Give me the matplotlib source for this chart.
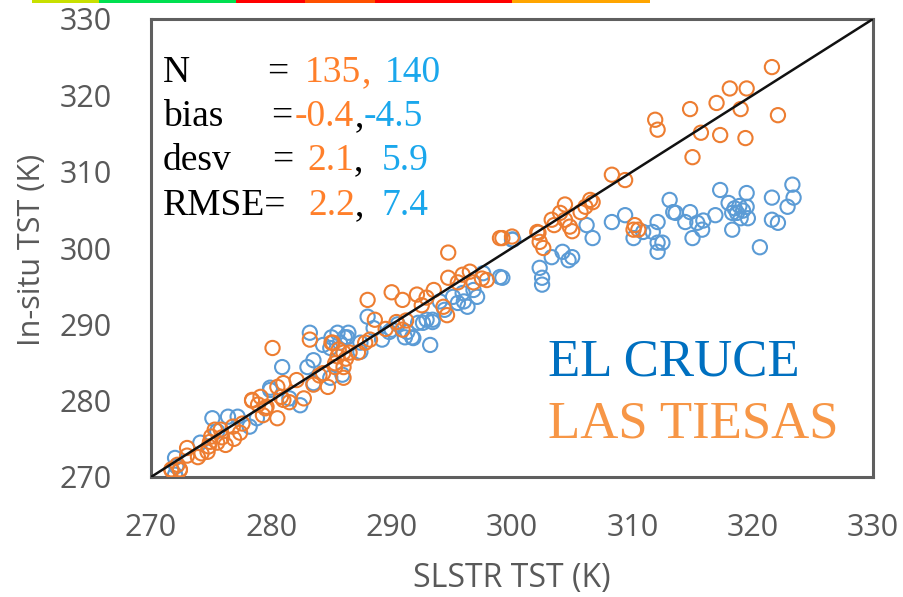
import matplotlib
matplotlib.use("Agg")
import matplotlib.pyplot as plt
from matplotlib.patches import Rectangle

W, H = 904, 597

# EL CRUCE (blue)
cruce_x = [272.0, 272.0, 272.1, 274.1, 275.1, 275.5, 276.4, 277.2, 278.2, 278.8,
           279.9, 279.9, 280.9, 282.4, 281.5,
           283.0, 283.2, 283.5, 283.5, 284.3, 284.9, 284.9, 285.0, 285.5, 285.7,
           285.9, 286.1, 286.3, 286.4, 287.4, 287.4, 288.0, 289.2, 290.0, 291.1,
           291.3, 291.7, 291.8, 292.2, 292.6, 292.9, 293.2, 293.4, 293.4, 294.4,
           295.1, 295.9, 296.3, 296.8, 297.1, 297.6, 299.0, 299.2, 294.0, 295.5,
           296.0, 288.5, 289.8, 290.5,
           300.0, 300.1, 302.3, 302.5, 302.5, 303.3, 304.2, 304.7, 305.0, 306.2,
           306.7, 308.3, 309.4, 310.1, 310.9, 311.7, 312.1, 312.1, 312.1, 312.5,
           313.1, 313.4, 313.6, 314.4, 314.8, 315.0, 315.4, 315.8, 315.9, 316.9,
           317.3, 318.0, 318.3, 318.3, 318.5, 318.7, 318.9, 319.0, 319.2, 319.5,
           319.5, 319.6, 320.6, 321.6, 321.6, 322.1, 322.9, 323.3, 323.4]
cruce_y = [272.5, 270.3, 271.4, 274.5, 277.7, 276.0, 277.9, 277.9, 276.6, 277.7,
           281.7, 281.4, 284.4, 279.4, 280.3,
           284.4, 288.9, 285.3, 282.3, 287.3, 283.0, 286.9, 288.3, 288.9, 287.6,
           283.4, 288.3, 288.3, 288.9, 286.4, 287.6, 291.0, 288.0, 289.3, 288.3,
           289.0, 288.3, 288.2, 290.2, 290.2, 290.6, 287.3, 290.6, 290.3, 291.9,
           293.6, 294.1, 292.3, 294.5, 293.6, 296.7, 296.2, 296.1, 293.0, 292.8,
           293.0, 289.5, 289.0, 290.0,
           301.1, 301.1, 297.4, 296.1, 295.2, 298.8, 299.5, 298.4, 298.8, 303.0,
           301.3, 303.4, 304.3, 301.3, 302.1, 302.1, 303.4, 300.7, 299.5, 300.7,
           306.3, 304.7, 304.6, 303.4, 304.7, 301.3, 303.3, 302.4, 303.6, 304.3,
           307.6, 305.9, 304.6, 302.4, 305.2, 304.6, 305.5, 303.9, 304.9, 307.2,
           305.4, 303.9, 300.1, 306.6, 303.7, 303.3, 305.4, 308.3, 306.6]

# LAS TIESAS (orange)
tiesas_x = [272.2, 271.7, 272.4, 273.0, 273.9, 274.2, 274.8, 275.0, 275.5, 275.8,
            276.2, 276.9, 277.4, 277.6, 278.4, 278.9, 279.1, 279.5, 280.1, 280.5,
            280.8, 281.0, 281.5, 282.1, 282.7, 283.2, 283.5, 284.0, 284.7, 285.0,
            285.5, 285.3, 286.0, 286.2, 286.5, 285.6, 287.2, 287.8, 288.0, 288.2,
            288.6, 289.5, 290.0, 290.4, 290.9, 290.9, 291.2, 292.1, 292.5, 292.9,
            293.5, 294.3, 294.6, 294.7, 294.7, 295.5, 295.9, 296.5, 296.8, 297.5,
            297.9, 285.1, 286.0, 285.3, 284.3, 286.0, 280.5, 278.4, 281.0, 279.6,
            279.3, 276.8, 275.9, 275.3, 274.9, 274.7, 273.0, 271.7, 272.4,
            299.0, 299.2, 300.0, 302.1, 302.2, 302.3, 302.6, 303.3, 303.5, 304.0,
            304.4, 304.4, 304.8, 305.0, 305.7, 306.1, 306.5, 306.7, 308.3, 309.4,
            310.2, 310.5, 310.1, 311.9, 312.1, 314.8, 315.0, 315.7, 317.0, 317.3,
            318.1, 319.0, 319.4, 319.5, 321.6, 322.1]
tiesas_y = [271.6, 271.0, 271.0, 272.8, 272.6, 273.1, 274.0, 275.3, 274.5, 276.2,
            274.2, 275.0, 275.8, 277.0, 280.0, 279.5, 280.5, 279.0, 286.9, 277.7,
            280.5, 282.3, 279.8, 282.7, 280.3, 288.0, 282.1, 283.3, 281.8, 287.6,
            285.8, 284.4, 283.0, 285.5, 286.3, 286.7, 286.3, 287.6, 293.2, 288.0,
            290.6, 289.4, 294.2, 290.3, 293.2, 289.3, 290.5, 293.9, 292.5, 293.5,
            294.5, 292.3, 291.2, 296.1, 299.4, 295.5, 296.5, 296.9, 295.5, 296.0,
            295.8, 287.6, 286.3, 284.9, 283.6, 284.4, 281.8, 280.1, 280.1, 279.2,
            278.1, 276.6, 275.2, 276.2, 274.6, 273.3, 273.8, 270.9, 270.9,
            301.3, 301.3, 301.5, 302.1, 302.0, 300.8, 300.0, 303.7, 303.0, 304.6,
            305.7, 303.7, 302.8, 302.2, 304.7, 305.4, 306.3, 306.0, 309.6, 308.9,
            303.0, 302.4, 302.4, 316.8, 315.5, 318.2, 311.9, 315.1, 319.0, 314.8,
            320.9, 318.2, 314.4, 320.9, 323.7, 317.4]

ticks = [270, 280, 290, 300, 310, 320, 330]

stat_rows = ["N", "bias", "desv", "RMSE="]
stat_tiesas = ["135", "-0.4", "2.1", "2.2"]
stat_cruce = ["140", "-4.5", "5.9", "7.4"]

# strip along the top edge (left px, right px, colour)
strip = [(32, 99, "#c8e000"), (99, 236, "#00e050"), (236, 305, "#ff0000"),
         (305, 375, "#ff5000"), (375, 512, "#ff0000"), (512, 650, "#ffa500")]

BLUE = "#5b9bd5"
ORANGE = "#ed7d31"
GREY = "#595959"

fig = plt.figure(figsize=(W / 100, H / 100), dpi=100, facecolor="white")
ax = fig.add_axes([151 / W, 1 - 477 / H, (873 - 151) / W, (477 - 19) / H])

ax.scatter(cruce_x, cruce_y, s=105, facecolors="none", edgecolors=BLUE, linewidths=1.5, zorder=2)
ax.scatter(tiesas_x, tiesas_y, s=105, facecolors="none", edgecolors=ORANGE, linewidths=1.5, zorder=3)
ax.plot([270, 330], [270, 330], color="#111111", lw=1.8, zorder=4)

ax.set_xlim(270, 330)
ax.set_ylim(270, 330)
ax.set_xticks(ticks)
ax.set_yticks(ticks)
tick_font = dict(family=["Open Sans", "DejaVu Sans"], size=22, color=GREY)
ax.set_xticklabels([str(t) for t in ticks], **tick_font)
ax.set_yticklabels([str(t) for t in ticks], **tick_font)
ax.tick_params(axis="both", length=0)
ax.tick_params(axis="x", pad=26)
ax.tick_params(axis="y", pad=28)
for sp in ax.spines.values():
    sp.set_color("#5f5f5f")
    sp.set_linewidth(2.2)

fig.text(512 / W, 1 - 579 / H, "SLSTR TST (K)", ha="center", va="center",
         family=["Open Sans", "DejaVu Sans"], size=23, color=GREY)
fig.text(32 / W, 1 - 250 / H, "In-situ TST (K)", ha="center", va="center", rotation=90,
         family=["Open Sans", "DejaVu Sans"], size=22, color=GREY)

# stats box text, pixel positions
serif = ["Liberation Serif", "DejaVu Serif"]
baselines = [82, 126, 170, 215]
eq_x = [267, 271, 272, None]
v1_x = [305, 295, 307, 308]
v2_x = [385, 364, 382, 382]
for i, row in enumerate(stat_rows):
    yb = 1 - baselines[i] / H
    kw = dict(va="baseline", ha="left", family=serif, size=27)
    fig.text(163 / W, yb, row, color="black", **kw)
    if eq_x[i] is not None:
        fig.text(eq_x[i] / W, yb, "=", color="black", **kw)
    t1 = fig.text(v1_x[i] / W, yb, stat_tiesas[i], color="#ff7f2a", **kw)
    # comma sits right after the first value
    ax.annotate(",", xy=(1, 0), xycoords=t1, va="bottom", ha="left",
                family=serif, size=27, color="#ff7f2a" if i == 0 else "black",
                annotation_clip=False)
    fig.text(v2_x[i] / W, yb, stat_cruce[i], color="#1aa7ec", **kw)

fig.text(548 / W, 1 - 375 / H, "EL CRUCE", va="baseline", ha="left",
         family=serif, size=38, color="#0070c0")
fig.text(548 / W, 1 - 438 / H, "LAS TIESAS", va="baseline", ha="left",
         family=serif, size=38, color="#f79646")

for x0, x1, c in strip:
    fig.add_artist(Rectangle((x0 / W, 1 - 3 / H), (x1 - x0) / W, 3 / H,
                             transform=fig.transFigure, color=c, lw=0))

fig.savefig("out.png", dpi=100, facecolor="white")
